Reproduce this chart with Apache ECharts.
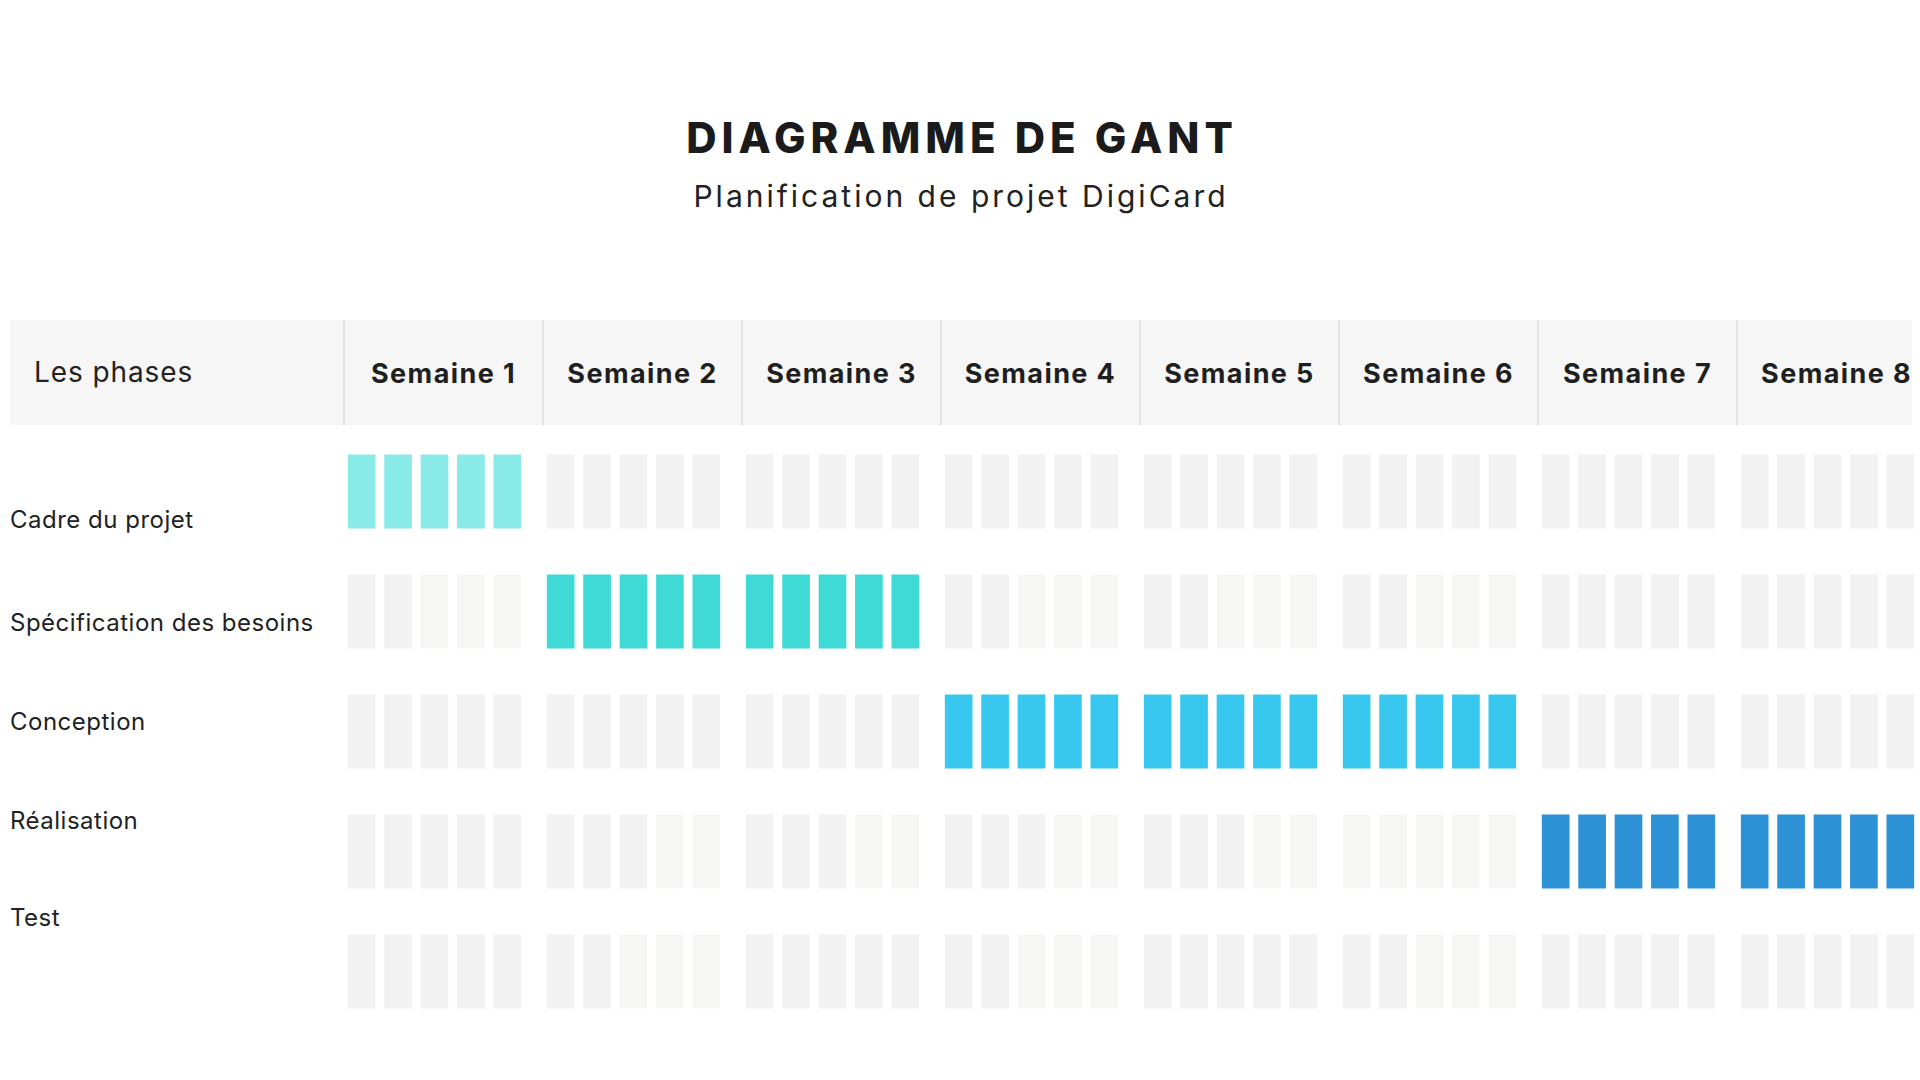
<!DOCTYPE html>
<html>
<head>
<meta charset="utf-8">
<script src="https://cdn.jsdelivr.net/npm/echarts@6/dist/echarts.min.js"></script>
<style>
html,body{margin:0;padding:0;background:#ffffff;}
#chart{width:1920px;height:1080px;}
#chart text[style*="42px"]{letter-spacing:5px;}
#chart text[style*="30px"]{letter-spacing:3px;}
#chart text[style*="27px"]{letter-spacing:1.4px;}
#chart text[style*="28px"]{letter-spacing:0.9px;}
#chart text[style*="24px"]{letter-spacing:0.5px;}
</style>
</head>
<body>
<div id="chart"></div>
<script>
// ---- texts ----
const titleText = 'DIAGRAMME DE GANT';
const subtitleText = 'Planification de projet DigiCard';
const headerLabel = 'Les phases';

// ---- categories ----
const weeks = ['Semaine 1','Semaine 2','Semaine 3','Semaine 4','Semaine 5','Semaine 6','Semaine 7','Semaine 8'];
const phases = ['Cadre du projet','Spécification des besoins','Conception','Réalisation','Test'];

// ---- day cells per phase, per week (5 days): 2 = planned, 1 = grey, 0 = pale grey ----
const cadreDays       = [[2,2,2,2,2],[1,1,1,1,1],[1,1,1,1,1],[1,1,1,1,1],[1,1,1,1,1],[1,1,1,1,1],[1,1,1,1,1],[1,1,1,1,1]];
const specDays        = [[1,1,0,0,0],[2,2,2,2,2],[2,2,2,2,2],[1,1,0,0,0],[1,1,0,0,0],[1,1,0,0,0],[1,1,1,1,1],[1,1,1,1,1]];
const conceptionDays  = [[1,1,1,1,1],[1,1,1,1,1],[1,1,1,1,1],[2,2,2,2,2],[2,2,2,2,2],[2,2,2,2,2],[1,1,1,1,1],[1,1,1,1,1]];
const realisationDays = [[1,1,1,1,1],[1,1,1,0,0],[1,1,1,0,0],[1,1,1,0,0],[1,1,1,0,0],[0,0,0,0,0],[2,2,2,2,2],[2,2,2,2,2]];
const testDays        = [[1,1,1,1,1],[1,1,0,0,0],[1,1,1,1,1],[1,1,0,0,0],[1,1,1,1,1],[1,1,0,0,0],[1,1,1,1,1],[1,1,1,1,1]];
const phaseDays = [cadreDays, specDays, conceptionDays, realisationDays, testDays];

// ---- styles ----
const activeColors = ['#8aeae8','#3fd9d6','#38c8ef','#2d91d5','#2d91d5'];
const greyColor = '#f2f2f2';
const paleColor = '#f6f7f5';
const labelShift = [28, 11, -10, -31, -54];

// build data rows: [weekIndex, phaseIndex, d1..d5]
const cells = [];
phaseDays.forEach(function (rows, p) {
  rows.forEach(function (days, w) {
    cells.push([w, p].concat(days));
  });
});

const rich = {};
labelShift.forEach(function (s, i) {
  rich['r' + i] = {
    fontFamily: 'Inter', fontSize: 24, color: '#222222',
    padding: s >= 0 ? [2 * s, 0, 0, 0] : [0, 0, -2 * s, 0]
  };
});

function renderItem(params, api) {
  const w = api.value(0), p = api.value(1);
  const c = api.coord([w, p]);
  const band = api.size([1, 1]);
  const pitch = band[0] * 0.183, bw = band[0] * 0.139, bh = band[1] * 0.617;
  const start = c[0] - (4 * pitch + bw) / 2;
  const children = [];
  for (let d = 0; d < 5; d++) {
    const s = api.value(2 + d);
    children.push({
      type: 'rect',
      shape: { x: start + d * pitch, y: c[1] - bh / 2, width: bw, height: bh },
      style: { fill: s === 2 ? activeColors[p] : (s === 1 ? greyColor : paleColor) }
    });
  }
  return { type: 'group', children: children };
}

const chart = echarts.init(document.getElementById('chart'), null, { renderer: 'svg', width: 1920, height: 1080 });
chart.setOption({
  backgroundColor: '#ffffff',
  animation: false,
  graphic: [
    { type: 'rect', z: -1, shape: { x: 10, y: 320, width: 1902, height: 105 }, style: { fill: '#f6f6f6' } },
    { type: 'text', x: 34, y: 372, style: { text: headerLabel, fontFamily: 'Inter', fontSize: 28, fontWeight: 400, fill: '#222222', align: 'left', verticalAlign: 'middle', textAlign: 'left', textVerticalAlign: 'middle' } },
    { type: 'text', x: 962, y: 137, style: { text: titleText, fontFamily: 'Inter', fontSize: 42, fontWeight: 800, fill: '#1b1b1b', align: 'center', verticalAlign: 'middle', textAlign: 'center', textVerticalAlign: 'middle' } },
    { type: 'text', x: 961, y: 196, style: { text: subtitleText, fontFamily: 'Inter', fontSize: 30, fontWeight: 400, fill: '#222222', align: 'center', verticalAlign: 'middle', textAlign: 'center', textVerticalAlign: 'middle' } }
  ],
  grid: [
    { left: 335, top: 431.5, width: 1592, height: 600, outerBoundsMode: 'none', containLabel: false },
    { left: 344, top: 320, width: 1592, height: 105, outerBoundsMode: 'none', containLabel: false }
  ],
  xAxis: [
    { gridIndex: 0, type: 'category', data: weeks, show: false },
    { gridIndex: 1, type: 'category', data: weeks, position: 'top',
      axisLine: { show: false }, axisTick: { show: false },
      splitLine: { show: true, interval: 0, lineStyle: { color: '#e2e2e2', width: 2 } },
      axisLabel: { inside: true, margin: 53, interval: 0, verticalAlign: 'middle',
        fontFamily: 'Inter', fontWeight: 700, fontSize: 27, color: '#1f1f1f' } }
  ],
  yAxis: [
    { gridIndex: 0, type: 'category', data: phases, inverse: true,
      axisLine: { show: false }, axisTick: { show: false }, splitLine: { show: false },
      axisLabel: { align: 'left', margin: 325, interval: 0,
        formatter: function (v, i) { return '{r' + i + '|' + v + '}'; }, rich: rich } },
    { gridIndex: 1, type: 'value', show: false }
  ],
  series: [{
    type: 'custom',
    xAxisIndex: 0, yAxisIndex: 0,
    renderItem: renderItem,
    encode: { x: 0, y: 1 },
    data: cells
  }]
});
</script>
</body>
</html>
